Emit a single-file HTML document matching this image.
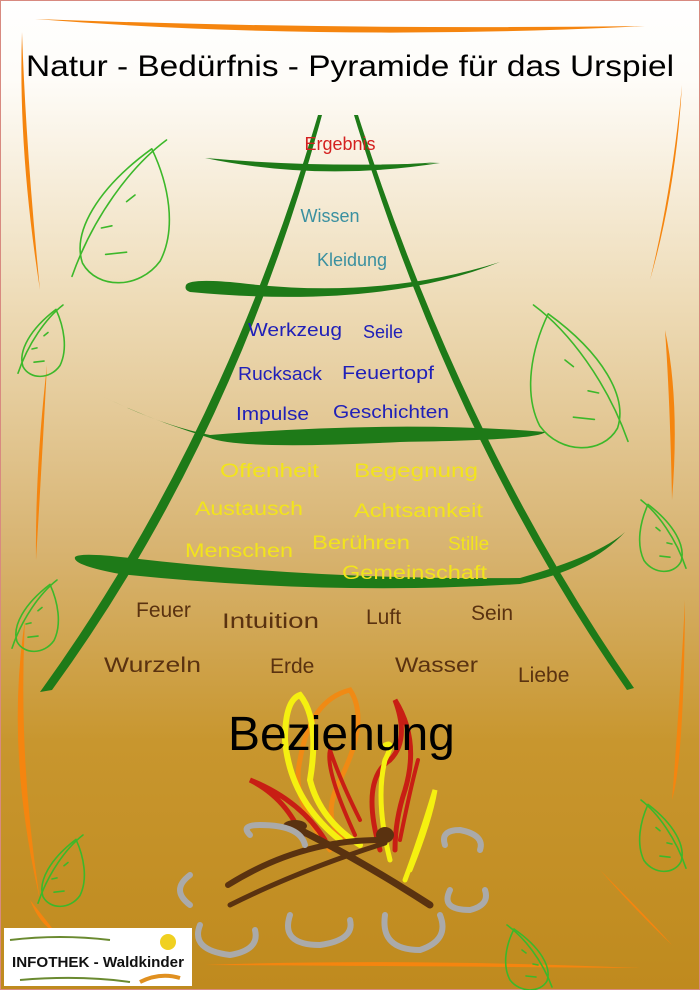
<!DOCTYPE html>
<html><head><meta charset="utf-8"><style>
html,body{margin:0;padding:0;}
body{width:700px;height:990px;overflow:hidden;}
svg{display:block}
text{font-family:"Liberation Sans",sans-serif;}
</style></head><body>
<svg width="700" height="990" viewBox="0 0 700 990" xmlns="http://www.w3.org/2000/svg">
<defs>
<linearGradient id="bg" x1="0" y1="0" x2="0" y2="1">
<stop offset="0" stop-color="#ffffff"/>
<stop offset="0.08" stop-color="#fefcf8"/>
<stop offset="0.3" stop-color="#eedcb8"/>
<stop offset="0.55" stop-color="#d8b472"/>
<stop offset="0.75" stop-color="#c8962e"/>
<stop offset="1" stop-color="#bf8a1e"/>
</linearGradient>
<g id="leaf" fill="none" stroke="#3cb82a" stroke-width="1.6" stroke-linecap="round">
<path d="M0,62 C10,35 28,12 45,0" vector-effect="non-scaling-stroke"/>
<path d="M38,4 C46,20 50,40 42,55 C32,68 12,68 5,56 C0,42 12,22 38,4" vector-effect="non-scaling-stroke"/>
<path d="M14,40 L19,39 M16,52 L26,51 M26,28 L30,25" vector-effect="non-scaling-stroke"/>
</g>
</defs>
<rect width="700" height="990" fill="url(#bg)"/>
<rect x="0.5" y="0.5" width="699" height="989" fill="none" stroke="#d88a80" stroke-width="1"/>

<g fill="#f5850f">
<path d="M35,19 Q330,42 645,26 Q330,30 35,19Z"/>
<path d="M22,32 Q18,150 40,290 Q26,150 22,32Z"/>
<path d="M682,85 Q672,190 650,280 Q676,190 682,85Z"/>
<path d="M47,365 Q35,470 36,560 Q42,460 47,365Z"/>
<path d="M665,330 Q680,400 672,500 Q670,400 665,330Z"/>
<path d="M25,620 Q5,750 40,900 Q18,760 25,620Z"/>
<path d="M685,600 Q684,760 672,800 Q680,700 685,600Z"/>
<path d="M30,900 Q50,925 55,932 Q40,925 30,900Z"/>
<path d="M205,965 Q400,958 640,968 Q400,966 205,965Z"/>
<path d="M600,870 Q650,920 672,945 Q640,915 600,870Z"/>
</g>

<text x="350" y="76" font-size="30" text-anchor="middle" fill="#000" textLength="648" lengthAdjust="spacingAndGlyphs">Natur - Bedürfnis - Pyramide für das Urspiel</text>

<use href="#leaf" transform="translate(72,140) scale(2.1,2.2)"/>
<use href="#leaf" transform="translate(628,305) scale(-2.1,2.2)"/>
<use href="#leaf" transform="translate(18,305) scale(1,1.1)"/>
<use href="#leaf" transform="translate(12,580) scale(1,1.1)"/>
<use href="#leaf" transform="translate(686,500) scale(-1,1.1)"/>
<use href="#leaf" transform="translate(38,835) scale(1,1.1)"/>
<use href="#leaf" transform="translate(686,800) scale(-1,1.1)"/>
<use href="#leaf" transform="translate(552,925) scale(-1,1)"/>

<g fill="#1e7a18">
<path d="M318,115 Q222,440 40,692 L52,690 Q234,440 322,115Z"/>
<path d="M354,115 Q452,440 627,690 L634,688 Q462,440 358,115Z"/>
<path d="M205,157 Q300,172 440,162 Q320,175 205,157Z"/>
<path d="M205,158 Q320,182 440,163 Q320,168 205,158Z"/>
<path d="M186,285 Q190,278 240,283 Q380,300 500,262 Q380,310 190,292 Q184,290 186,285Z"/>
<path d="M100,395 Q160,425 210,435 Q400,420 545,432 Q540,440 400,442 Q240,450 210,438 Q150,420 100,395Z"/>
<path d="M75,557 Q80,552 130,558 Q320,580 520,578 Q600,555 625,532 Q590,570 520,584 Q330,596 120,574 Q72,565 75,557Z"/>
</g>

<g font-size="18">
<text x="340" y="150" text-anchor="middle" fill="#d42020">Ergebnis</text>
<text x="330" y="222" text-anchor="middle" fill="#3a90a0">Wissen</text>
<text x="352" y="266" text-anchor="middle" fill="#3a90a0">Kleidung</text>
</g>
<g font-size="18" fill="#2020b8">
<text x="248" y="336" textLength="94" lengthAdjust="spacingAndGlyphs">Werkzeug</text>
<text x="363" y="338">Seile</text>
<text x="238" y="380" textLength="84" lengthAdjust="spacingAndGlyphs">Rucksack</text>
<text x="342" y="379" textLength="92" lengthAdjust="spacingAndGlyphs">Feuertopf</text>
<text x="236" y="420" textLength="73" lengthAdjust="spacingAndGlyphs">Impulse</text>
<text x="333" y="418" textLength="116" lengthAdjust="spacingAndGlyphs">Geschichten</text>
</g>
<g font-size="19" fill="#f2e41c">
<text x="220" y="477" textLength="99" lengthAdjust="spacingAndGlyphs">Offenheit</text>
<text x="354" y="477" textLength="124" lengthAdjust="spacingAndGlyphs">Begegnung</text>
<text x="195" y="515" textLength="108" lengthAdjust="spacingAndGlyphs">Austausch</text>
<text x="354" y="517" textLength="129" lengthAdjust="spacingAndGlyphs">Achtsamkeit</text>
<text x="185" y="557" textLength="108" lengthAdjust="spacingAndGlyphs">Menschen</text>
<text x="312" y="549" textLength="98" lengthAdjust="spacingAndGlyphs">Berühren</text>
<text x="448" y="550">Stille</text>
<text x="342" y="579" textLength="145" lengthAdjust="spacingAndGlyphs">Gemeinschaft</text>
</g>
<g font-size="21" fill="#5a3210">
<text x="136" y="617">Feuer</text>
<text x="222" y="628" textLength="97" lengthAdjust="spacingAndGlyphs">Intuition</text>
<text x="366" y="624">Luft</text>
<text x="471" y="620">Sein</text>
<text x="104" y="672" textLength="97" lengthAdjust="spacingAndGlyphs">Wurzeln</text>
<text x="270" y="673">Erde</text>
<text x="395" y="672" textLength="83" lengthAdjust="spacingAndGlyphs">Wasser</text>
<text x="518" y="682">Liebe</text>
</g>

<g fill="none" stroke-linecap="round">
<path d="M330,850 Q290,800 300,760 Q310,700 350,690 Q370,720 340,780 Q320,820 345,840" stroke="#f08a14" stroke-width="5"/>
<path d="M340,840 Q290,800 285,740 Q285,700 300,695 Q320,720 310,780 Q320,820 360,845" stroke="#f5f010" stroke-width="6"/>
<path d="M305,845 Q290,800 250,780 Q300,800 325,840" stroke="#c81e14" stroke-width="5"/>
<path d="M380,850 Q360,780 390,760 Q410,740 395,700 Q420,740 405,790 Q395,820 395,850" stroke="#c81e14" stroke-width="5"/>
<path d="M360,820 Q340,780 330,750 Q325,770 355,835" stroke="#c81e14" stroke-width="4"/>
<path d="M390,860 Q375,800 385,760 Q395,740 385,745" stroke="#f5f010" stroke-width="5"/>
<path d="M410,870 Q430,820 435,790 Q420,840 405,880" stroke="#f5f010" stroke-width="5"/>
<path d="M400,840 Q410,790 418,760" stroke="#c81e14" stroke-width="4"/>
</g>
<g fill="none" stroke="#5a3210" stroke-linecap="round">
<path d="M228,885 Q300,840 380,840" stroke-width="6"/>
<path d="M300,830 Q360,860 430,905" stroke-width="7"/>
<path d="M230,905 Q300,870 385,843" stroke-width="5"/>
</g>
<ellipse cx="295" cy="826" rx="12" ry="6" fill="#5a3210"/>
<ellipse cx="385" cy="835" rx="9" ry="8" fill="#5a3210"/>
<g fill="none" stroke="#aaaaaa" stroke-width="6" stroke-linecap="round">
<path d="M250,835 Q240,825 260,825 Q300,825 305,845"/>
<path d="M190,875 Q170,890 190,905"/>
<path d="M200,925 Q190,950 230,955 Q260,950 255,930"/>
<path d="M290,915 Q280,945 320,945 Q355,940 350,920"/>
<path d="M385,915 Q380,950 420,950 Q450,940 440,915"/>
<path d="M450,890 Q440,910 470,910 Q490,905 485,890"/>
<path d="M445,845 Q440,830 460,830 Q485,835 480,850"/>
</g>

<text x="228" y="750" font-size="48" fill="#000">Beziehung</text>

<rect x="4" y="928" width="188" height="58" fill="#fff"/>
<text x="98" y="967" font-size="15" font-weight="bold" text-anchor="middle" fill="#111" textLength="172" lengthAdjust="spacingAndGlyphs">INFOTHEK - Waldkinder</text>
<path d="M10,940 Q60,934 110,940 M20,980 Q80,975 130,982" stroke="#6a8a30" stroke-width="2" fill="none"/>
<circle cx="168" cy="942" r="8" fill="#f0d020"/>
<path d="M140,982 Q160,972 180,978" stroke="#e09020" stroke-width="4" fill="none"/>
</svg>
</body></html>
